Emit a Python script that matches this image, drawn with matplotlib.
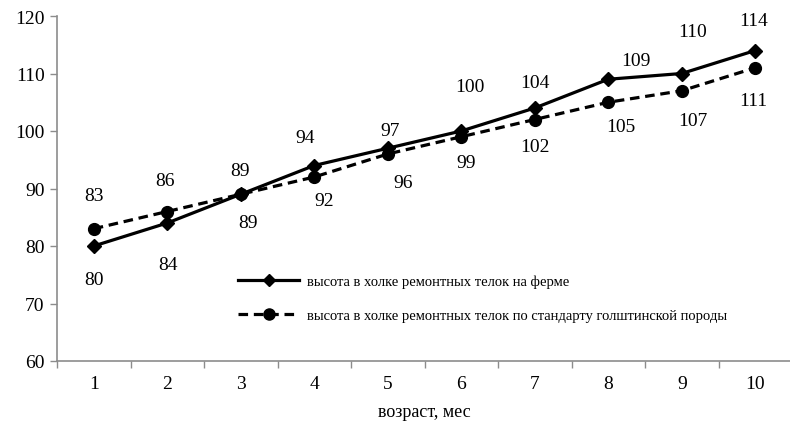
import matplotlib
matplotlib.use("Agg")
import matplotlib.pyplot as plt
from matplotlib.ticker import FixedLocator, NullFormatter
from matplotlib import font_manager

names = sorted({f.name for f in font_manager.fontManager.ttflist})
serif = [n for n in ['Liberation Serif', 'Times New Roman', 'DejaVu Serif'] if n in names]
plt.rcParams['font.family'] = 'serif'
plt.rcParams['font.serif'] = serif

months = [1, 2, 3, 4, 5, 6, 7, 8, 9, 10]
farm = [80, 84, 89, 94, 97, 100, 104, 109, 110, 114]
standard = [83, 86, 89, 92, 96, 99, 102, 105, 107, 111]
farm_label = "высота в холке ремонтных телок на ферме"
standard_label = "высота в холке ремонтных телок по стандарту голштинской породы"
xlabel = "возраст, мес"
yticks = [60, 70, 80, 90, 100, 110, 120]

# label offsets in pixels (dx, dy)
farm_off = [(0, -34), (1, -42), (-1, 24), (-9, 28), (2, 18), (9, 44), (0, 25), (28, 19), (11, 42), (-2, 30)]
std_off = [(0, 33), (-2, 31), (7, -28), (10, -23), (15, -29), (5, -26), (0, -27), (13, -24), (11, -30), (-2, -33)]

fig = plt.figure(figsize=(7.9, 4.31), dpi=100)
ax = fig.add_axes([57/790, 1-362/431, (792-57)/790, (362-17)/431])

ax.plot(months, farm, color='black', lw=2.3, marker='D', ms=7.5, label=farm_label)
ax.plot(months, standard, color='black', lw=2.3, ls=(0, (3, 1.8)), marker='o', ms=8.5, label=standard_label)

for x, v, (dx, dy) in zip(months, farm, farm_off):
    ax.annotate(str(v), (x, v), xytext=(dx, dy), textcoords='offset pixels',
                ha='center', va='center', fontsize=14)
for x, v, (dx, dy) in zip(months, standard, std_off):
    ax.annotate(str(v), (x, v), xytext=(dx, dy), textcoords='offset pixels',
                ha='center', va='center', fontsize=14)

ax.set_xlim(0.5, 10.5)
ax.set_ylim(60, 120)
ax.set_yticks(yticks)
ax.set_xticks(months)
ax.xaxis.set_minor_locator(FixedLocator([i + 0.5 for i in range(0, 11)]))
ax.xaxis.set_minor_formatter(NullFormatter())
ax.tick_params(axis='x', which='major', length=0, labelsize=14, pad=10)
ax.tick_params(axis='x', which='minor', length=5, color='#8c8c8c', width=1)
ax.tick_params(axis='y', length=5, color='#8c8c8c', width=1, labelsize=14, pad=4)
for s in ['top', 'right']:
    ax.spines[s].set_visible(False)
for s in ['left', 'bottom']:
    ax.spines[s].set_color('#8c8c8c')
    ax.spines[s].set_linewidth(1.2)
ax.set_xlabel(xlabel, fontsize=13, labelpad=8)

leg = ax.legend(loc='upper left', bbox_to_anchor=((238-57)/735, 1-(276-17)/345),
                frameon=False, fontsize=10.5, handlelength=4.2, handletextpad=0.5,
                labelspacing=1.4, borderaxespad=0, borderpad=0)
for h in leg.legend_handles:
    h.set_linewidth(2.3)
leg.legend_handles[0].set_markersize(6)
leg.legend_handles[1].set_markersize(8)

fig.savefig('out.png', dpi=100)
